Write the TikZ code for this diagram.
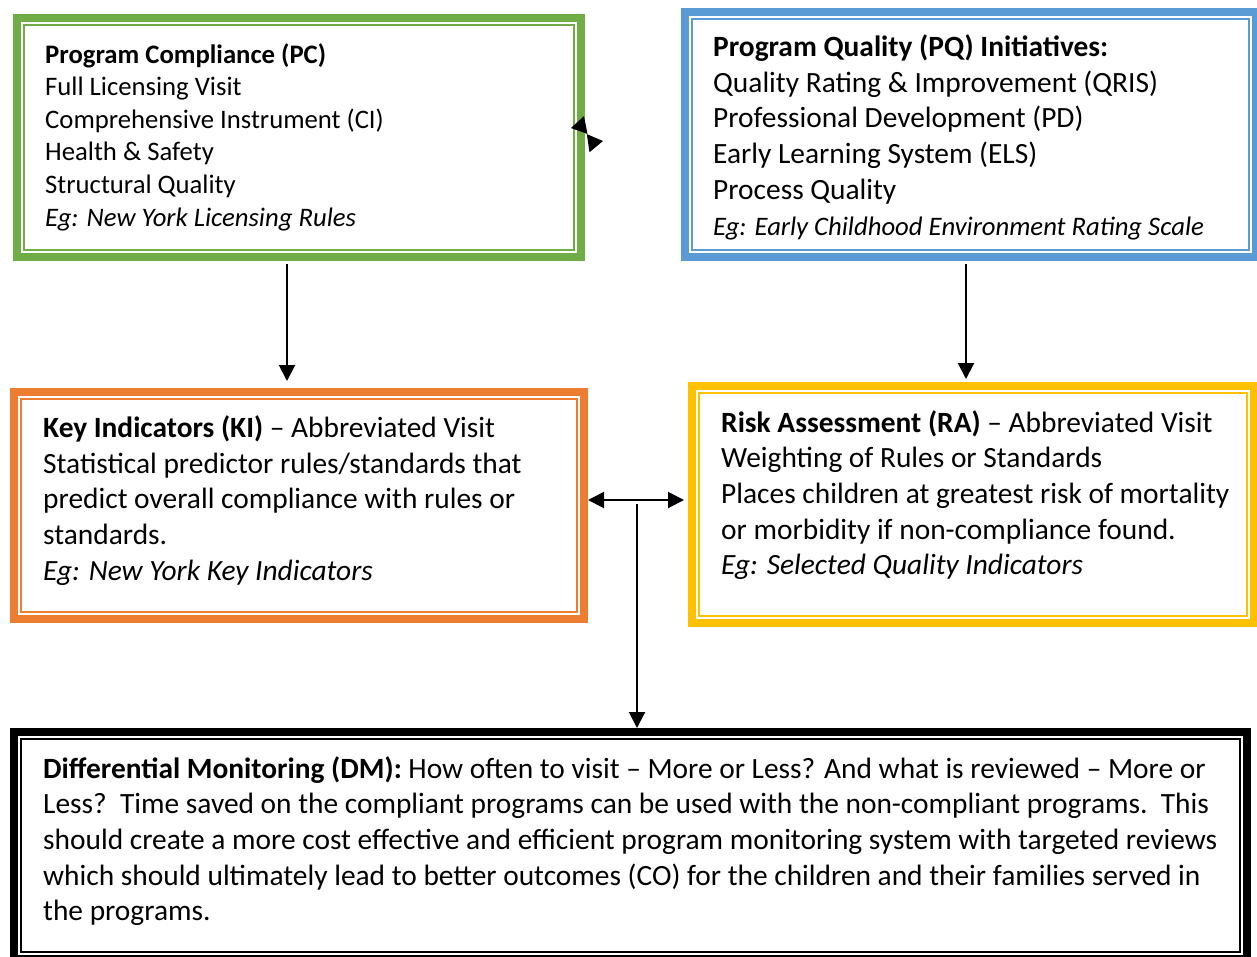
\documentclass[tikz,border=0pt]{standalone}
\usepackage{fontspec}
\setmainfont{Carlito}
\usetikzlibrary{arrows.meta}
\definecolor{pcgreen}{HTML}{70AD47}
\definecolor{pqblue}{HTML}{5B9BD5}
\definecolor{kiorange}{HTML}{ED7D31}
\definecolor{ragold}{HTML}{FFC000}
\begin{document}
\begin{tikzpicture}[x=1pt,y=-1pt,
        outsty/.style={draw=#1,line width=8pt,inner sep=0pt},
        insty/.style={draw=#1,line width=2pt},
        tsty/.style={anchor=base west,align=left,inner sep=0pt,
            font=\fontsize{29.4}{35.7}\selectfont},
        asty/.style={line width=2pt,-{Triangle[length=16pt,width=16pt]}},
        dasty/.style={line width=2pt,{Triangle[length=16pt,width=16pt]}-{Triangle[length=16pt,width=16pt]}},
        tipsty/.style={line width=1pt,shorten <=6pt,-{Triangle[length=15pt,width=18pt]}},
    ]
    \useasboundingbox (0,0) rectangle (1257,956);
    \clip (0,0) rectangle (1257,956);
    % boxes
    \node (pc) at (299,137.5) [outsty=pcgreen, minimum width=564pt, minimum height=239pt] {};
    \node (pq) at (970.5,134.5) [outsty=pqblue, minimum width=571pt, minimum height=245pt] {};
    \node (ki) at (299,505.5) [outsty=kiorange, minimum width=570pt, minimum height=227pt] {};
    \node (ra) at (973,504.5) [outsty=ragold, minimum width=562pt, minimum height=237pt] {};
    \node (dm) at (630.5,845.5) [outsty=black, minimum width=1233pt, minimum height=227pt] {};
    \foreach \b/\c in {pc/pcgreen,pq/pqblue,ki/kiorange,ra/ragold,dm/black}{
        \draw[insty=\c] ([shift={(11,11)}]\b.north west) rectangle ([shift={(-11,-11)}]\b.south east);
    }
    % texts (placed at the baseline of the last line)
    \node (pct) at (45,226) [tsty, font=\fontsize{26.7}{32.6}\selectfont] {\textbf{Program Compliance (PC)}\\
        Full Licensing Visit\\
        Comprehensive Instrument (CI)\\
        Health \& Safety\\
        Structural Quality\\
        \textit{Eg: New York Licensing Rules}};
    \node (pqt) at (713,235) [tsty] {\textbf{Program Quality (PQ) Initiatives:}\\
        Quality Rating \& Improvement (QRIS)\\
        Professional Development (PD)\\
        Early Learning System (ELS)\\
        Process Quality\\
        {\fontsize{26.7}{35.7}\selectfont\textit{Eg: Early Childhood Environment Rating Scale}}};
    \node (kit) at (43,580.3) [tsty] {\textbf{Key Indicators (KI)} -- Abbreviated Visit\\
        Statistical predictor rules/standards that\\
        predict overall compliance with rules or\\
        standards.\\
        \textit{Eg: New York Key Indicators}};
    \node (rat) at (721,574.8) [tsty] {\textbf{Risk Assessment (RA)} -- Abbreviated Visit\\
        Weighting of Rules or Standards\\
        Places children at greatest risk of mortality\\
        or morbidity if non-compliance found.\\
        \textit{Eg: Selected Quality Indicators}};
    \node (dmt) at (43,920.8) [tsty] {\textbf{Differential Monitoring (DM):} How often to visit -- More or Less? And what is reviewed -- More or\\
        Less?\ \ Time saved on the compliant programs can be used with the non-compliant programs.\ \ This\\
        should create a more cost effective and efficient program monitoring system with targeted reviews\\
        which should ultimately lead to better outcomes (CO) for the children and their families served in\\
        the programs.};
    % arrows
    \coordinate (lnka) at (590.6,124.1);
    \coordinate (lnkat) at (571,128);
    \coordinate (lnkb) at (583.2,143.9);
    \coordinate (lnkbt) at (603,141);
    \draw[tipsty] (lnka) -- (lnkat);
    \draw[tipsty] (lnkb) -- (lnkbt);
    \draw[asty, shorten <=3pt, shorten >=7pt] ([xshift=-12pt]pc.south) -- ([xshift=-12pt]ki.north);
    \draw[asty, shorten <=3pt, shorten >=3pt] ([xshift=-4.5pt]pq.south) -- ([xshift=-7pt]ra.north);
    \draw[dasty, shorten >=4pt] ([yshift=5.5pt]ki.east) -- ([yshift=4.5pt]ra.west);
    \coordinate (mid) at (637,504);
    \draw[asty] (mid) -- (mid |- dm.north);
\end{tikzpicture}
\end{document}
